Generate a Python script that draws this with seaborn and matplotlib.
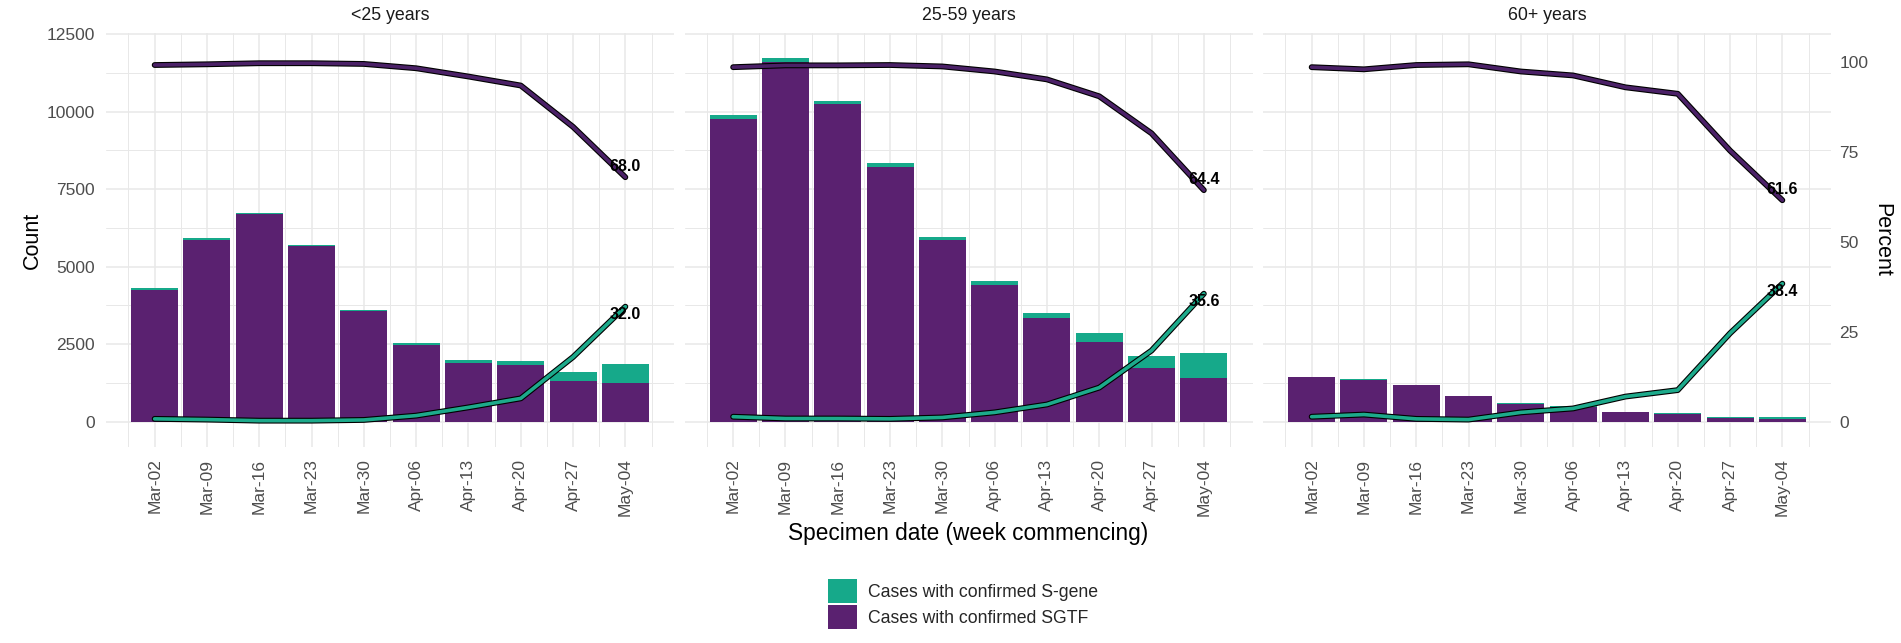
import numpy as np
import pandas as pd
import matplotlib
matplotlib.use("Agg")
import matplotlib.pyplot as plt
import matplotlib.patheffects as pe
from matplotlib.patches import Patch
from matplotlib.ticker import MultipleLocator
import seaborn as sns

# ---- data -------------------------------------------------------------
weeks = ["Mar-02", "Mar-09", "Mar-16", "Mar-23", "Mar-30",
         "Apr-06", "Apr-13", "Apr-20", "Apr-27", "May-04"]
age_groups = ["<25 years", "25-59 years", "60+ years"]

# weekly case counts by S-gene status
sgtf_u25 = [4260, 5860, 6710, 5660, 3565, 2460, 1900, 1825, 1313, 1265]
sgene_u25 = [60, 55, 35, 40, 40, 70, 90, 133, 300, 595]
sgtf_25_59 = [9755, 11615, 10240, 8225, 5860, 4410, 3335, 2580, 1720, 1420]
sgene_25_59 = [140, 110, 115, 110, 110, 130, 180, 270, 400, 785]
sgtf_60p = [1432, 1349, 1174, 834, 579, 487, 300, 265, 121, 99]
sgene_60p = [20, 28, 10, 5, 15, 19, 23, 25, 40, 62]

# weekly percentages of cases by S-gene status
sgtf_pct_u25 = [99.2, 99.4, 99.7, 99.7, 99.5, 98.3, 96.0, 93.5, 82.0, 68.0]
sgene_pct_u25 = [0.8, 0.6, 0.3, 0.3, 0.5, 1.7, 4.0, 6.5, 18.0, 32.0]
sgtf_pct_25_59 = [98.6, 99.1, 99.1, 99.2, 98.8, 97.4, 95.2, 90.5, 80.2, 64.4]
sgene_pct_25_59 = [1.4, 0.9, 0.9, 0.8, 1.2, 2.6, 4.8, 9.5, 19.8, 35.6]
sgtf_pct_60p = [98.6, 98.0, 99.2, 99.4, 97.4, 96.3, 93.0, 91.2, 75.4, 61.6]
sgene_pct_60p = [1.4, 2.0, 0.8, 0.6, 2.6, 3.7, 7.0, 8.8, 24.6, 38.4]

groups = [
    (age_groups[0], sgtf_u25, sgene_u25, sgtf_pct_u25, sgene_pct_u25),
    (age_groups[1], sgtf_25_59, sgene_25_59, sgtf_pct_25_59, sgene_pct_25_59),
    (age_groups[2], sgtf_60p, sgene_60p, sgtf_pct_60p, sgene_pct_60p),
]

# ---- style ------------------------------------------------------------
PURPLE = "#5A2170"
TEAL = "#16A98A"
PURPLE_LINE = "#4B2167"
TEAL_LINE = "#1DAA8B"
GRID = "#E8E8E8"
TICK_COL = "#4D4D4D"

SCALE = 116  # counts per percentage point (secondary axis transform)
YLIM = (-805, 12540)

sns.set_theme(style="white")
plt.rcParams["font.family"] = ["Liberation Sans", "DejaVu Sans"]

W, H = 1901, 643
fig = plt.figure(figsize=(W / 100, H / 100), dpi=100)

panel_left = [106, 684.5, 1263]
panel_w = 568
top_px, bottom_px = 33, 446.7

outline = lambda w: [pe.Stroke(linewidth=w, foreground="black"), pe.Normal()]

for i, (title, sgtf, sgene, sgtf_pct, sgene_pct) in enumerate(groups):
    ax = fig.add_axes([panel_left[i] / W, 1 - bottom_px / H,
                       panel_w / W, (bottom_px - top_px) / H])
    df = pd.DataFrame({
        "week": weeks,
        "pos": np.arange(len(weeks)),
        "sgtf": sgtf,
        "total": np.array(sgtf) + np.array(sgene),
        "sgtf_y": np.array(sgtf_pct) * SCALE,
        "sgene_y": np.array(sgene_pct) * SCALE,
    })

    # stacked bars: S-gene on top of SGTF
    sns.barplot(data=df, x="week", y="total", color=TEAL, saturation=1,
                width=0.9, linewidth=0, ax=ax, zorder=2)
    sns.barplot(data=df, x="week", y="sgtf", color=PURPLE, saturation=1,
                width=0.9, linewidth=0, ax=ax, zorder=3)

    # percentage lines on the count scale
    sns.lineplot(data=df, x="pos", y="sgene_y", color=TEAL_LINE, linewidth=2.6,
                 path_effects=outline(4.2), ax=ax, zorder=5)
    sns.lineplot(data=df, x="pos", y="sgtf_y", color=PURPLE_LINE, linewidth=2.6,
                 path_effects=outline(4.2), ax=ax, zorder=6)

    last = len(weeks) - 1
    ax.text(last, (sgtf_pct[-1] + 2.9) * SCALE, f"{sgtf_pct[-1]:.1f}",
            ha="center", va="center", fontsize=11.5, fontweight="bold",
            color="black", zorder=8)
    ax.text(last, (sgene_pct[-1] - 2.3) * SCALE, f"{sgene_pct[-1]:.1f}",
            ha="center", va="center", fontsize=11.5, fontweight="bold",
            color="black", zorder=8)

    ax.set_xlim(-0.93, last + 0.93)
    ax.set_ylim(*YLIM)
    ax.yaxis.set_major_locator(MultipleLocator(2500))
    ax.yaxis.set_minor_locator(MultipleLocator(1250))
    ax.set_xticks(np.arange(len(weeks)))
    ax.set_xticks(np.arange(-0.5, len(weeks), 1.0), minor=True)
    ax.set_xticklabels(weeks, rotation=90, ha="center", va="top")
    ax.set_axisbelow(True)
    ax.grid(which="major", color=GRID, linewidth=1.1, zorder=0)
    ax.grid(which="minor", color=GRID, linewidth=0.7, zorder=0)
    for s in ax.spines.values():
        s.set_visible(False)
    ax.tick_params(axis="x", which="both", length=0, pad=8.5,
                   labelsize=12.5, labelcolor=TICK_COL)
    ax.tick_params(axis="y", which="both", length=0, pad=8,
                   labelsize=12.5, labelcolor=TICK_COL)
    if i > 0:
        ax.tick_params(axis="y", labelleft=False)
    ax.set_xlabel("")
    ax.set_ylabel("")
    ax.text(0.5, 1 + (top_px - 15) / (bottom_px - top_px), title,
            transform=ax.transAxes, ha="center", va="center",
            fontsize=12.8, color="#1A1A1A")

    if i == len(groups) - 1:
        ax2 = ax.twinx()
        ax2.set_ylim(YLIM[0] / SCALE, YLIM[1] / SCALE)
        ax2.set_yticks([0, 25, 50, 75, 100])
        ax2.grid(False)
        for s in ax2.spines.values():
            s.set_visible(False)
        ax2.tick_params(axis="y", length=0, pad=6, labelsize=12.5,
                        labelcolor=TICK_COL)

fig.text(32 / W, 1 - 240 / H, "Count", rotation=90, ha="center", va="center",
         fontsize=15.5, color="black")
fig.text(1882 / W, 1 - 240 / H, "Percent", rotation=270, ha="center",
         va="center", fontsize=15.5, color="black")
fig.text(968 / W, 1 - 540 / H, "Specimen date (week commencing)",
         ha="center", va="baseline", fontsize=16.3, color="black")

handles = [Patch(facecolor=TEAL, edgecolor="none", label="Cases with confirmed S-gene"),
           Patch(facecolor=PURPLE, edgecolor="none", label="Cases with confirmed SGTF")]
fig.legend(handles=handles, loc="upper left",
           bbox_to_anchor=(828 / W, 1 - 579 / H), frameon=False,
           fontsize=12.7, handlelength=1.65, handleheight=1.7,
           handletextpad=0.6, labelspacing=0.12, borderpad=0,
           borderaxespad=0)

fig.savefig("out.png", dpi=100)
